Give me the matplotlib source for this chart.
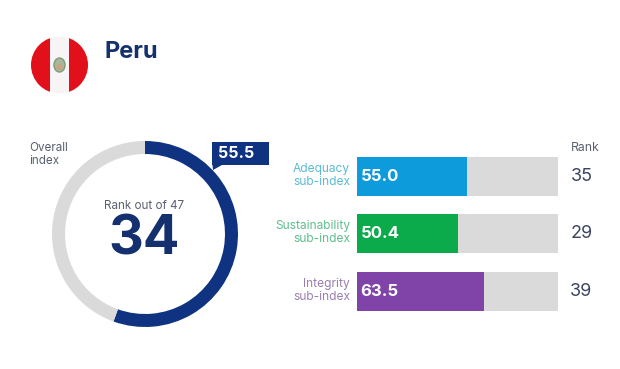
import matplotlib
matplotlib.use('Agg')
import matplotlib.pyplot as plt
from matplotlib.patches import Circle, Ellipse, Polygon, Rectangle

plt.rcParams['font.family'] = ['Inter', 'DejaVu Sans']

W, H = 620, 369

country = "Peru"
overall_value = 55.5
overall_rank = 34
n_countries = 47
sub_names = ["Adequacy\nsub-index", "Sustainability\nsub-index", "Integrity\nsub-index"]
sub_values = [55.0, 50.4, 63.5]
sub_ranks = [35, 29, 39]
sub_colors = ['#0E9BDC', '#0BAA4B', '#8044A8']
label_colors = ['#5BBBD2', '#5DBE8E', '#9A7FB0']

NAVY = '#0F3380'
DARK = '#14306E'
GREY = '#DADADA'
TEXT = '#5A6070'


def px_axes(fig, left, top, width, height):
    # axes placed by pixel box, y counted from the top
    return fig.add_axes([left / W, 1 - (top + height) / H, width / W, height / H])


fig = plt.figure(figsize=(W / 100, H / 100), dpi=100, facecolor='white')

# canvas in pixels for the flag, callout and text
bg = fig.add_axes([0, 0, 1, 1])
bg.set_xlim(0, W)
bg.set_ylim(H, 0)
bg.axis('off')

# flag
clip = Circle((59.5, 65), 28.5, transform=bg.transData)
for x0, x1, c in [(30, 50, '#E2101A'), (50, 69, '#F6F4F4'), (69, 90, '#E2101A')]:
    r = Rectangle((x0, 36), x1 - x0, 58, color=c, lw=0)
    bg.add_patch(r)
    r.set_clip_path(clip)
bg.add_patch(Ellipse((59.5, 65), 11, 14, fc='#A9B89A', ec='#7E9A78', lw=1))
bg.add_patch(Ellipse((59.5, 67), 6, 6, fc='#C9A27E', ec='none'))

bg.text(104, 52, country, fontsize=17, fontweight='bold', color=DARK, va='center', ha='left')

# ring
ring = px_axes(fig, 52, 141, 186, 186)
ring.pie([overall_value, 100 - overall_value], colors=[NAVY, GREY], startangle=90,
         counterclock=False, radius=1.0, wedgeprops={'width': 0.14, 'linewidth': 0})
ring.set_xlim(-1, 1)
ring.set_ylim(-1, 1)

bg.text(29, 154.5, "Overall\nindex", fontsize=8.4, color=TEXT, va='center', ha='left', linespacing=1.2)
bg.text(144, 206, f"Rank out of {n_countries}", fontsize=8.4, color=TEXT, va='center', ha='center')
bg.text(144, 240, str(overall_rank), fontsize=39, fontweight='bold', color=DARK, va='center', ha='center')

# value callout
bg.add_patch(Rectangle((212, 141.5), 57, 23.5, fc=NAVY, ec='none', zorder=3))
bg.add_patch(Polygon([(212, 160), (222, 165), (213, 170)], fc=NAVY, ec='none', zorder=3))
bg.text(236.5, 153.5, f"{overall_value}", fontsize=11.5, fontweight='bold', color='white',
        va='center', ha='center', zorder=4)

# sub-index bars
tops = [157, 214, 272]
for name, val, rank, c, lc, top in zip(sub_names, sub_values, sub_ranks, sub_colors, label_colors, tops):
    ax = px_axes(fig, 356.5, top, 201.5, 39)
    ax.barh([0], [100], height=1, color=GREY, lw=0)
    ax.barh([0], [val], height=1, color=c, lw=0)
    ax.set_xlim(0, 100)
    ax.set_ylim(-0.5, 0.5)
    ax.axis('off')
    ax.text(2, 0, f"{val:.1f}", fontsize=12, fontweight='bold', color='white', va='center', ha='left')
    bg.text(350, top + 18.5, name, fontsize=8.6, color=lc, va='center', ha='right', linespacing=1.2)
    bg.text(581.5, top + 19.5, str(rank), fontsize=13, color='#3A4560', va='center', ha='center')

bg.text(585, 148, "Rank", fontsize=8.8, color=TEXT, va='center', ha='center')

fig.savefig('out.png', dpi=100, facecolor='white')
